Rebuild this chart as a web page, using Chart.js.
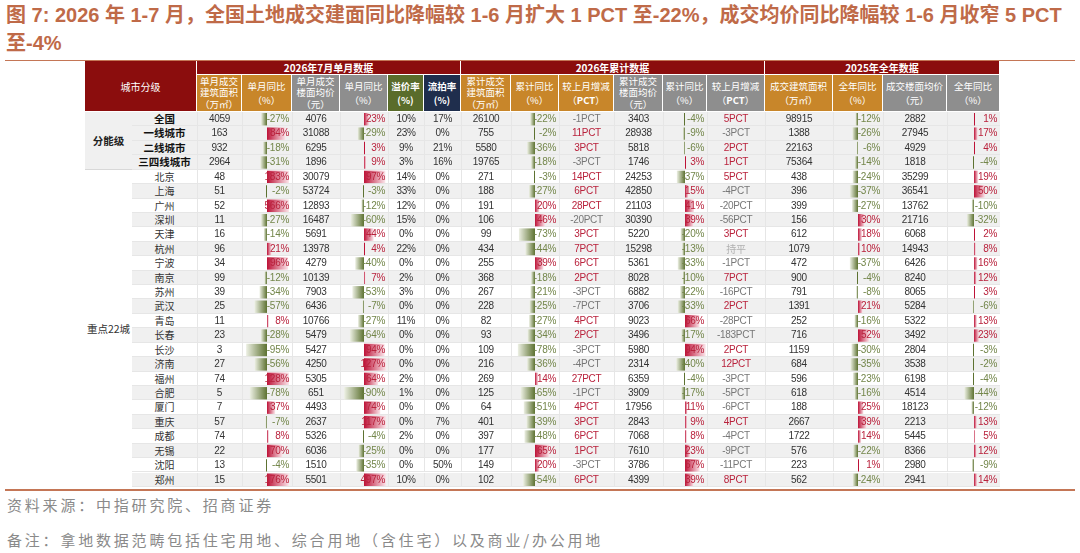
<!DOCTYPE html>
<html>
<head>
<meta charset="utf-8">
<script src="https://cdn.jsdelivr.net/npm/chart.js@4.4.1/dist/chart.umd.min.js"></script>
<style>
  html, body { margin: 0; padding: 0; background: #fff; }
  #page { position: relative; width: 1080px; height: 553px; overflow: hidden; background: #fff;
          font-family: "Liberation Sans", Arial, "Noto Sans CJK SC", sans-serif; }
  #title { position: absolute; left: 6px; top: 1px; white-space: nowrap; color: #bf6a48;
           font-family: "Liberation Sans", Arial, "Noto Sans CJK SC", sans-serif; font-weight: bold; font-size: 20px; line-height: 28px; }
  .line { position: absolute; left: 5px; width: 1070px; background: #c47656; }
  .cell { position: absolute; box-sizing: border-box; overflow: visible; white-space: nowrap; }
  .hd { color: #fff; font-family: "Noto Sans CJK SC", sans-serif; font-size: 9.5px;
        display: flex; align-items: center; justify-content: center; text-align: center;
        border-right: 1px solid #fff; }
  .txt { z-index: 3; font-size: 10px; letter-spacing: -0.3px; color: #333; }
  .bg { z-index: 0; }
  canvas.bar { position: absolute; z-index: 1; }
  .note { position: absolute; left: 7px; color: #8a8a8a; font-family: "Noto Sans CJK SC", sans-serif;
          font-size: 15px; letter-spacing: 2.8px; white-space: nowrap; }
</style>
</head>
<body>
<div id="page">
  <div id="title">图 7: 2026 年 1-7 月，全国土地成交建面同比降幅较 1-6 月扩大 1 PCT 至-22%，成交均价同比降幅较 1-6 月收窄 5 PCT<br>至-4%</div>
  <div class="line" style="top:60px;height:1px;"></div>
  <div class="line" style="top:489px;height:2px;"></div>
  <div class="note" style="top:494px;">资料来源：中指研究院、招商证券</div>
  <div class="note" style="top:529px;">备注：拿地数据范畴包括住宅用地、综合用地（含住宅）以及商业/办公用地</div>
</div>
<script>
// 城市
const cities = ['全国','一线城市','二线城市','三四线城市','北京','上海','广州','深圳','天津','杭州','宁波','南京','苏州','武汉','青岛','长春','长沙','济南','福州','合肥','厦门','重庆','成都','无锡','沈阳','郑州'];

// 2026年7月单月数据
const monthArea = [4059,163,932,2964,48,51,52,11,16,96,34,99,39,25,11,23,3,27,74,5,7,57,74,22,13,15];
const monthAreaYoY = [-27,84,-18,-31,183,-2,566,-27,-14,21,96,-12,-34,-57,8,-28,-95,-56,128,-78,37,-7,8,70,-4,176];
const monthPrice = [4076,31088,6295,1896,30079,53724,12893,16487,5691,13978,4279,10139,7903,6436,10766,5479,5427,4250,5305,651,4493,2637,5326,6036,1510,5501];
const monthPriceYoY = [23,-29,3,9,97,-3,-12,-60,44,4,-40,7,-53,-7,-27,-64,94,127,64,-90,74,117,-4,-25,-35,497];
const premiumRate = [10,23,9,3,14,33,12,15,0,22,0,2,3,0,11,0,0,0,2,1,0,0,2,0,0,10];
const failRate = [17,0,21,16,0,0,0,0,0,0,0,0,0,0,0,0,0,0,0,0,0,7,0,0,50,0];

// 2026年累计数据
const cumArea = [26100,755,5580,19765,271,188,191,106,99,434,255,368,267,228,82,93,109,216,269,125,64,401,397,177,149,102];
const cumAreaYoY = [-22,-2,-36,-18,-3,-27,20,46,-73,-44,39,-18,-21,-25,-27,-34,-78,-36,14,-65,-51,-39,-48,65,20,-54];
const cumAreaChg = [-1,11,3,-3,14,6,28,-20,3,7,6,2,-3,-7,4,2,-3,-4,27,-1,4,3,6,1,-3,6];
const cumPrice = [3403,28938,5818,1746,24253,42850,21103,30390,5220,15298,5361,8028,6882,3706,9023,3496,5980,2314,6359,3909,17956,2843,7068,7610,3786,4399];
const cumPriceYoY = [-4,-9,-6,3,-37,15,41,39,-20,-13,-33,-10,-22,-33,66,-17,94,-40,-4,-17,11,9,8,23,67,39];
const cumPriceChg = [5,-3,2,1,5,-4,-20,-56,3,0,-1,7,-16,2,-28,-183,2,12,-3,-5,-6,4,-4,-9,-11,8];

// 2025年全年数据
const yearArea = [98915,1388,22163,75364,438,396,399,156,612,1079,472,900,791,1391,252,716,1159,684,596,618,188,2667,1722,576,223,562];
const yearAreaYoY = [-12,-26,-6,-14,-24,-37,-27,30,18,10,-37,-4,-8,21,-16,52,-30,-35,-23,-16,25,39,14,-22,1,-24];
const yearPrice = [2882,27945,4929,1818,35299,36541,13762,21716,6068,14943,6426,8240,8065,5284,5322,3492,2804,3538,6198,4514,18123,2213,5445,8366,2980,2941];
const yearPriceYoY = [1,17,4,-4,19,50,-10,-32,2,8,16,12,3,-6,13,23,-3,-2,-4,-44,-12,13,5,12,-9,14];

// 表头
const groupHeads = ['2026年7月单月数据','2026年累计数据','2025年全年数据'];
const colHeads = [['单月成交','建筑面积','（万㎡）'],['单月同比','（%）'],['单月成交','楼面均价','（元）'],['单月同比','（%）'],
  ['<b>溢价率</b>','<b>(%)</b>'],['<b>流拍率</b>','<b>(%)</b>'],
  ['累计成交','建筑面积','（万㎡）'],['累计同比','（%）'],['较上月增减','（<b>PCT</b>）'],['累计成交','楼面均价','（元）'],['累计同比','（%）'],['较上月增减','（<b>PCT</b>）'],
  ['成交建筑面积','（万㎡）'],['全年同比','（%）'],['成交楼面均价','（元）'],['全年同比','（%）']];

const page = document.getElementById('page');
const colX = [85,132,197,242,292,340,388,424,461,511,559,614,663,707,765,833,883,947,1000];
const rowTop = 112, rowH = 14.42;
const RED = '#8b0d0d', ORANGE = '#c8862a', GRAY = '#8e8e8e', GREEN = '#5a6c2b', NAVY = '#1f2e4d';
const headColors = [ORANGE,ORANGE,GRAY,GRAY,GREEN,NAVY,ORANGE,ORANGE,ORANGE,GRAY,GRAY,GRAY,ORANGE,ORANGE,GRAY,GRAY];

function addDiv(cls, x, y, w, h, html, style) {
  const d = document.createElement('div');
  d.className = 'cell ' + cls;
  d.style.left = x + 'px'; d.style.top = y + 'px';
  d.style.width = w + 'px'; d.style.height = h + 'px';
  if (style) Object.assign(d.style, style);
  d.innerHTML = html;
  page.appendChild(d);
  return d;
}

// header
addDiv('hd', colX[0], 61, colX[2] - colX[0], 50, '<div>城市分级</div>', { background: RED, fontSize: '10px' });
const groupSpan = [[2, 8], [8, 14], [14, 18]];
groupSpan.forEach((g, i) => {
  addDiv('hd', colX[g[0]], 61, colX[g[1]] - colX[g[0]], 14, '<div><b>' + groupHeads[i] + '</b></div>',
    { background: RED, borderBottom: '1px solid #fff', fontSize: '10px', lineHeight: '13px' });
});
colHeads.forEach((lines, i) => {
  const lh = lines.length > 2 ? 11.5 : 14;
  const inner = lines.map(t => '<div style="height:' + lh + 'px;line-height:' + lh + 'px">' + t + '</div>').join('');
  addDiv('hd', colX[i + 2], 75, colX[i + 3] - colX[i + 2], 36, '<div>' + inner + '</div>', { background: headColors[i] });
});

// rows background
cities.forEach((c, i) => {
  const y = rowTop + i * rowH;
  const shade = i < 4 || i % 2 === 1;
  addDiv('bg', colX[1], y, colX[18] - colX[1], rowH, '', { background: shade ? '#f0f0f0' : '#fff', borderBottom: '1px solid #e6e6e6' });
  for (let k = 2; k < 18; k++) {
    addDiv('bg', colX[k], y, 1, rowH, '', { background: '#e6e6e6', width: '1px' });
  }
});
addDiv('bg', colX[0], rowTop, colX[1] - colX[0], 4 * rowH, '', { background: '#f0f0f0', borderBottom: '1px solid #d8d8d8' });
addDiv('txt', colX[0], rowTop, colX[1] - colX[0], 4 * rowH, '分能级',
  { display: 'flex', alignItems: 'center', justifyContent: 'center', fontWeight: 'bold', fontSize: '10.5px', fontFamily: '"Noto Sans CJK SC", sans-serif', color: '#222', letterSpacing: '0' });
addDiv('txt', colX[0], rowTop + 4 * rowH, colX[1] - colX[0], 22 * rowH, '重点22城',
  { display: 'flex', alignItems: 'center', justifyContent: 'center', fontSize: '10.5px', fontFamily: '"Noto Sans CJK SC", sans-serif', letterSpacing: '0' });

const POS = '#b9223c', NEG = '#73864a';
function pctText(v) { return v + '%'; }
function pctColor(v) { return v < 0 ? NEG : POS; }
function chgText(v) { return v === 0 ? '持平' : v + 'PCT'; }
function chgColor(v) { return v === 0 ? '#b0b0b0' : (v > 0 ? POS : '#777'); }

// columns: [array, kind]
const cols = [
  [monthArea, 'num'], [monthAreaYoY, 'pct'], [monthPrice, 'num'], [monthPriceYoY, 'pct'], [premiumRate, 'rate'], [failRate, 'rate'],
  [cumArea, 'num'], [cumAreaYoY, 'pct'], [cumAreaChg, 'chg'], [cumPrice, 'num'], [cumPriceYoY, 'pct'], [cumPriceChg, 'chg'],
  [yearArea, 'num'], [yearAreaYoY, 'pct'], [yearPrice, 'num'], [yearPriceYoY, 'pct']
];

cities.forEach((c, i) => {
  const y = rowTop + i * rowH;
  const lh = { lineHeight: rowH + 'px', textAlign: 'center' };
  addDiv('txt', colX[1], y, colX[2] - colX[1], rowH, c, Object.assign({}, lh, {
    fontFamily: '"Noto Sans CJK SC", sans-serif', fontWeight: i < 4 ? 'bold' : 'normal', color: i < 4 ? '#111' : '#333',
    fontSize: i < 4 ? '10.5px' : '10px', letterSpacing: '0'
  }));
  cols.forEach((col, k) => {
    const v = col[0][i], kind = col[1];
    const x = colX[k + 2], w = colX[k + 3] - colX[k + 2];
    if (kind === 'num') addDiv('txt', x, y, w, rowH, String(v), lh);
    else if (kind === 'rate') addDiv('txt', x, y, w, rowH, v + '%', lh);
    else if (kind === 'chg') addDiv('txt', x, y, w, rowH, chgText(v), Object.assign({}, lh, { color: chgColor(v), fontFamily: v === 0 ? '"Noto Sans CJK SC", sans-serif' : '' }));
    else addDiv('txt', x, y, w, rowH, pctText(v), { lineHeight: rowH + 'px', textAlign: 'right', paddingRight: '3px', color: pctColor(v) });
  });
});

// data bars (Chart.js), axis at the cell middle, ±100% = half the bar width
function barFill(ctx) {
  const chart = ctx.chart;
  const v = ctx.raw;
  const base = v < 0 ? '#5d7231' : '#bd1237';
  const fade = v < 0 ? '#edf0e4' : '#fbe6eb';
  if (!chart.chartArea) return base;
  const sx = chart.scales.x;
  const x0 = sx.getPixelForValue(0);
  const x1 = sx.getPixelForValue(Math.max(-100, Math.min(100, v)));
  if (Math.abs(x1 - x0) < 1) return base;
  const g = chart.ctx.createLinearGradient(x0, 0, x1, 0);
  g.addColorStop(0, base);
  g.addColorStop(1, fade);
  return g;
}

const barCols = [[monthAreaYoY, 3], [monthPriceYoY, 5], [cumAreaYoY, 9], [cumPriceYoY, 12], [yearAreaYoY, 15], [yearPriceYoY, 17]];
barCols.forEach(([vals, ci]) => {
  const mid = (colX[ci] + colX[ci + 1]) / 2;
  const cv = document.createElement('canvas');
  cv.className = 'bar';
  const w = 44, h = Math.round(26 * rowH);
  cv.width = w; cv.height = h;
  cv.style.left = (mid - w / 2) + 'px';
  cv.style.top = rowTop + 'px';
  cv.style.width = w + 'px'; cv.style.height = h + 'px';
  page.appendChild(cv);
  new Chart(cv, {
    type: 'bar',
    data: {
      labels: cities,
      datasets: [{ data: vals, backgroundColor: barFill, borderWidth: 0, barPercentage: 0.86, categoryPercentage: 1, minBarLength: 1 }]
    },
    options: {
      responsive: false,
      animation: false,
      indexAxis: 'y',
      events: [],
      layout: { padding: 0 },
      plugins: { legend: { display: false }, tooltip: { enabled: false } },
      scales: {
        x: { min: -100, max: 100, display: false },
        y: { display: false }
      }
    }
  });
});
</script>
</body>
</html>
